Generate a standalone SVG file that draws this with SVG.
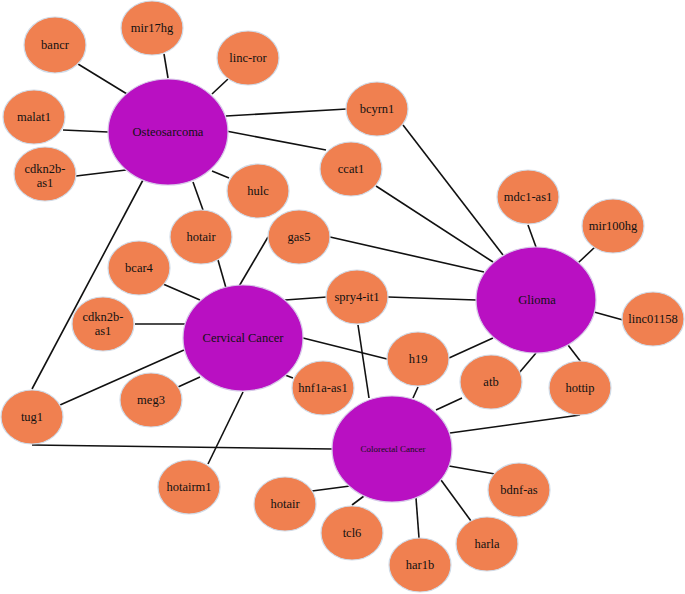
<svg xmlns="http://www.w3.org/2000/svg" width="685" height="594" viewBox="0 0 685 594">
<style>
.e{stroke:#111;stroke-width:1.6;fill:none}
.o{fill:#F08050;stroke:#cfdbe8;stroke-width:1.2}
.p{fill:#B910C2;stroke:#d6c8e8;stroke-width:1.2}
text{font-family:"Liberation Serif","Times New Roman",serif;font-size:12.5px;fill:#111;text-anchor:middle;dominant-baseline:central}
.s{font-size:9px}
</style>
<rect width="685" height="594" fill="#fff"/>
<g id="connectors">
<line class="e" x1="78" y1="64" x2="127" y2="94"/>
<line class="e" x1="164" y1="54" x2="168" y2="78"/>
<line class="e" x1="228" y1="79" x2="212" y2="94"/>
<line class="e" x1="63" y1="130" x2="108" y2="132"/>
<line class="e" x1="76" y1="176" x2="126" y2="170"/>
<line class="e" x1="226" y1="116" x2="347" y2="109"/>
<line class="e" x1="226" y1="131" x2="326" y2="150"/>
<line class="e" x1="212" y1="171" x2="229" y2="178"/>
<line class="e" x1="193" y1="182" x2="203" y2="210"/>
<line class="e" x1="143" y1="180" x2="32" y2="389"/>
<line class="e" x1="403" y1="125" x2="503" y2="255"/>
<line class="e" x1="376" y1="186" x2="493" y2="262"/>
<line class="e" x1="330" y1="237" x2="484" y2="272"/>
<line class="e" x1="388" y1="297" x2="476" y2="300"/>
<line class="e" x1="449" y1="358" x2="493" y2="338"/>
<line class="e" x1="528" y1="225" x2="536" y2="247"/>
<line class="e" x1="595" y1="247" x2="578" y2="263"/>
<line class="e" x1="594" y1="312" x2="623" y2="320"/>
<line class="e" x1="568" y1="345" x2="581" y2="362"/>
<line class="e" x1="519" y1="373" x2="536" y2="353"/>
<line class="e" x1="218" y1="260" x2="226" y2="288"/>
<line class="e" x1="268" y1="237" x2="238" y2="288"/>
<line class="e" x1="163" y1="284" x2="200" y2="300"/>
<line class="e" x1="135" y1="324" x2="185" y2="324"/>
<line class="e" x1="60" y1="405" x2="184" y2="350"/>
<line class="e" x1="178" y1="387" x2="200" y2="377"/>
<line class="e" x1="285" y1="300" x2="327" y2="297"/>
<line class="e" x1="303" y1="338" x2="387" y2="359"/>
<line class="e" x1="285" y1="375" x2="293" y2="378"/>
<line class="e" x1="243" y1="392" x2="208" y2="464"/>
<line class="e" x1="32" y1="445" x2="333" y2="449"/>
<line class="e" x1="358" y1="325" x2="369" y2="398"/>
<line class="e" x1="418" y1="387" x2="413" y2="398"/>
<line class="e" x1="462" y1="398" x2="436" y2="410"/>
<line class="e" x1="580" y1="415" x2="450" y2="433"/>
<line class="e" x1="312" y1="491" x2="350" y2="486"/>
<line class="e" x1="352" y1="505" x2="364" y2="496"/>
<line class="e" x1="416" y1="498" x2="419" y2="538"/>
<line class="e" x1="441" y1="480" x2="471" y2="521"/>
<line class="e" x1="449" y1="466" x2="495" y2="474"/>
</g>
<g id="osteosarcoma"><ellipse class="p" cx="168" cy="132" rx="60" ry="53"/><text x="168" y="132">Osteosarcoma</text></g>
<g id="glioma"><ellipse class="p" cx="536" cy="300" rx="60" ry="53"/><text x="537" y="300">Glioma</text></g>
<g id="cervical-cancer"><ellipse class="p" cx="243" cy="338" rx="60" ry="53"/><text x="243" y="338">Cervical Cancer</text></g>
<g id="colorectal-cancer"><ellipse class="p" cx="392" cy="449" rx="60" ry="53"/><text class="s" x="393" y="449">Colorectal Cancer</text></g>
<g id="bancr"><ellipse class="o" cx="55" cy="45" rx="31" ry="28"/><text x="55" y="45">bancr</text></g>
<g id="mir17hg"><ellipse class="o" cx="152" cy="28" rx="31" ry="27"/><text x="152" y="28">mir17hg</text></g>
<g id="linc-ror"><ellipse class="o" cx="248" cy="58" rx="31" ry="27"/><text x="248" y="58">linc-ror</text></g>
<g id="malat1"><ellipse class="o" cx="34" cy="117" rx="31" ry="27"/><text x="34" y="117">malat1</text></g>
<g id="cdkn2b-as1-a"><ellipse class="o" cx="45" cy="174" rx="31" ry="27"/><text x="45" y="169">cdkn2b-</text><text x="45" y="183">as1</text></g>
<g id="bcyrn1"><ellipse class="o" cx="377" cy="109" rx="31" ry="27"/><text x="377" y="109">bcyrn1</text></g>
<g id="ccat1"><ellipse class="o" cx="351" cy="169" rx="31" ry="27"/><text x="351" y="169">ccat1</text></g>
<g id="hulc"><ellipse class="o" cx="258" cy="191" rx="31" ry="27"/><text x="258" y="191">hulc</text></g>
<g id="hotair-a"><ellipse class="o" cx="201" cy="237" rx="31" ry="27"/><text x="201" y="237">hotair</text></g>
<g id="gas5"><ellipse class="o" cx="299" cy="237" rx="31" ry="27"/><text x="299" y="237">gas5</text></g>
<g id="mdc1-as1"><ellipse class="o" cx="528" cy="197" rx="31" ry="27"/><text x="528" y="197">mdc1-as1</text></g>
<g id="mir100hg"><ellipse class="o" cx="613" cy="226" rx="31" ry="27"/><text x="613" y="226">mir100hg</text></g>
<g id="linc01158"><ellipse class="o" cx="653" cy="319" rx="31" ry="27"/><text x="653" y="319">linc01158</text></g>
<g id="hottip"><ellipse class="o" cx="580" cy="388" rx="31" ry="27"/><text x="580" y="388">hottip</text></g>
<g id="atb"><ellipse class="o" cx="491" cy="382" rx="31" ry="27"/><text x="491" y="382">atb</text></g>
<g id="bcar4"><ellipse class="o" cx="139" cy="268" rx="31" ry="27"/><text x="139" y="268">bcar4</text></g>
<g id="cdkn2b-as1-b"><ellipse class="o" cx="103" cy="324" rx="31" ry="27"/><text x="103" y="317">cdkn2b-</text><text x="103" y="331">as1</text></g>
<g id="meg3"><ellipse class="o" cx="151" cy="400" rx="31" ry="27"/><text x="151" y="400">meg3</text></g>
<g id="tug1"><ellipse class="o" cx="32" cy="417" rx="31" ry="27"/><text x="32" y="417">tug1</text></g>
<g id="spry4-it1"><ellipse class="o" cx="357" cy="297" rx="31" ry="27"/><text x="357" y="297">spry4-it1</text></g>
<g id="h19"><ellipse class="o" cx="418" cy="359" rx="31" ry="27"/><text x="418" y="359">h19</text></g>
<g id="hnf1a-as1"><ellipse class="o" cx="323" cy="388" rx="31" ry="27"/><text x="323" y="388">hnf1a-as1</text></g>
<g id="hotairm1"><ellipse class="o" cx="189" cy="487" rx="31" ry="27"/><text x="189" y="487">hotairm1</text></g>
<g id="hotair-b"><ellipse class="o" cx="285" cy="504" rx="31" ry="27"/><text x="285" y="504">hotair</text></g>
<g id="tcl6"><ellipse class="o" cx="352" cy="533" rx="31" ry="27"/><text x="352" y="533">tcl6</text></g>
<g id="har1b"><ellipse class="o" cx="420" cy="565" rx="31" ry="27"/><text x="420" y="565">har1b</text></g>
<g id="harla"><ellipse class="o" cx="487" cy="544" rx="31" ry="27"/><text x="487" y="544">harla</text></g>
<g id="bdnf-as"><ellipse class="o" cx="519" cy="490" rx="31" ry="27"/><text x="519" y="490">bdnf-as</text></g>
</svg>
